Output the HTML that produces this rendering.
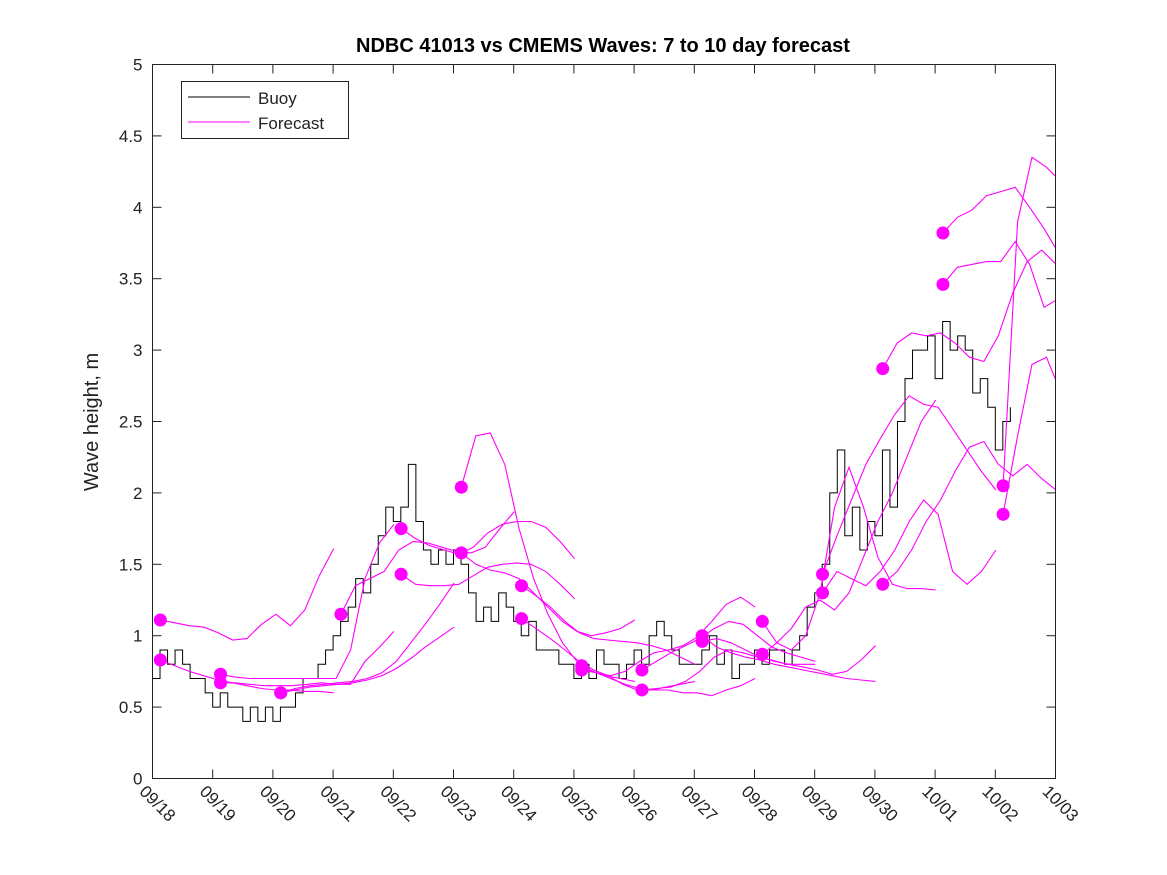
<!DOCTYPE html>
<html><head><meta charset="utf-8"><style>
body{margin:0;background:#fff;}
svg{display:block;font-family:"Liberation Sans",sans-serif;}
</style></head><body>
<svg id="chart" width="1167" height="875">
<rect x="0" y="0" width="1167" height="875" fill="#fff"/>
<text x="603" y="52" text-anchor="middle" font-size="20" font-weight="bold" fill="#000">NDBC 41013 vs CMEMS Waves: 7 to 10 day forecast</text>
<text transform="translate(98,422) rotate(-90)" text-anchor="middle" font-size="20" fill="#222">Wave height, m</text>
<g id="grid"></g>
<g id="plot"></g>
<rect x="152.5" y="64.5" width="903" height="714" fill="none" stroke="#222" stroke-width="1"/>
<g id="axes"></g>
<g>
<rect x="181.5" y="81.5" width="167" height="57" fill="#fff" stroke="#222"/>
<line x1="188" y1="97" x2="250" y2="97" stroke="#000"/>
<text x="258" y="104" font-size="17" fill="#222">Buoy</text>
<line x1="188" y1="122" x2="250" y2="122" stroke="#f0f"/>
<text x="258" y="129" font-size="17" fill="#222">Forecast</text>
</g>
</svg>
<script>
const xTickLabels=["09/18","09/19","09/20","09/21","09/22","09/23","09/24","09/25","09/26","09/27","09/28","09/29","09/30","10/01","10/02","10/03"];
const yTickLabels=["0","0.5","1","1.5","2","2.5","3","3.5","4","4.5","5"];
const buoyStep=0.125;
const buoyValues=[0.7,0.9,0.8,0.9,0.8,0.7,0.7,0.6,0.5,0.6,0.5,0.5,0.4,0.5,0.4,0.5,0.4,0.5,0.5,0.6,0.7,0.7,0.8,0.9,1.0,1.1,1.2,1.4,1.3,1.5,1.7,1.9,1.8,1.9,2.2,1.8,1.6,1.5,1.6,1.5,1.6,1.5,1.3,1.1,1.2,1.1,1.3,1.2,1.1,1.0,1.1,0.9,0.9,0.9,0.8,0.8,0.7,0.8,0.7,0.9,0.8,0.8,0.7,0.8,0.9,0.8,1.0,1.1,1.0,0.9,0.8,0.8,0.8,0.9,1.0,0.8,0.9,0.7,0.8,0.8,0.9,0.8,0.9,0.9,0.8,0.9,1.0,1.2,1.3,1.5,2.0,2.3,1.7,1.9,1.6,1.8,1.7,2.3,1.9,2.5,2.8,3.0,3.0,3.1,2.8,3.2,3.0,3.1,3.0,2.7,2.8,2.6,2.3,2.5,2.6];
const forecastStep=0.24;
const forecastStarts=[0.13,0.13,1.13,1.13,2.13,2.13,3.13,4.13,4.13,5.13,5.13,6.13,6.13,7.13,7.13,8.13,8.13,9.13,9.13,10.13,10.13,11.13,11.13,12.13,12.13,13.13,13.13,14.13,14.13];
const forecastValues=[
[1.11,1.09,1.07,1.06,1.02,0.97,0.98,1.08,1.15,1.07,1.18,1.42,1.61],
[0.83,0.79,0.75,0.72,0.69,0.67,0.65,0.63,0.62,0.62,0.61,0.61,0.60],
[0.73,0.71,0.70,0.70,0.70,0.70,0.70,0.70,0.70,0.90,1.40,1.65,1.78],
[0.67,0.67,0.66,0.65,0.65,0.65,0.66,0.67,0.66,0.66,0.82,0.92,1.03],
[0.60,0.63,0.65,0.66,0.67,0.68,0.70,0.74,0.82,0.95,1.08,1.22,1.37],
[0.60,0.62,0.64,0.65,0.66,0.67,0.69,0.72,0.77,0.84,0.92,0.99,1.06],
[1.15,1.35,1.40,1.45,1.60,1.66,1.65,1.62,1.59,1.58,1.62,1.75,1.87],
[1.75,1.68,1.63,1.60,1.57,1.62,1.72,1.78,1.80,1.80,1.76,1.66,1.54],
[1.43,1.36,1.35,1.35,1.36,1.42,1.48,1.50,1.51,1.50,1.45,1.36,1.26],
[2.04,2.40,2.42,2.20,1.75,1.40,1.15,0.95,0.82,0.75,0.72,0.70,0.68],
[1.58,1.50,1.46,1.44,1.40,1.30,1.20,1.10,1.03,1.00,1.02,1.05,1.11],
[1.35,1.28,1.20,1.10,1.02,0.98,0.97,0.96,0.95,0.93,0.90,0.85,0.80],
[1.12,1.05,0.98,0.90,0.82,0.76,0.72,0.66,0.62,0.62,0.64,0.66,0.68],
[0.79,0.74,0.70,0.66,0.63,0.62,0.62,0.60,0.60,0.58,0.62,0.65,0.70],
[0.76,0.74,0.72,0.75,0.82,0.88,0.90,0.93,0.99,1.10,1.22,1.27,1.20],
[0.76,0.82,0.88,0.93,0.98,1.05,1.10,1.08,1.00,0.92,0.88,0.85,0.82],
[0.62,0.63,0.64,0.68,0.75,0.85,0.90,0.88,0.85,0.83,0.80,0.80,0.80],
[1.00,0.92,0.88,0.85,0.83,0.80,0.78,0.76,0.74,0.72,0.70,0.69,0.68],
[0.96,0.98,0.95,0.90,0.85,0.82,0.80,0.78,0.76,0.73,0.75,0.83,0.93],
[1.10,0.95,0.90,1.00,1.30,1.90,2.18,1.90,1.55,1.36,1.33,1.33,1.32],
[0.87,0.95,1.05,1.20,1.25,1.18,1.30,1.55,1.80,2.00,2.25,2.50,2.65],
[1.43,1.70,1.95,2.20,2.38,2.55,2.68,2.62,2.60,2.45,2.30,2.15,2.02],
[1.30,1.45,1.40,1.35,1.45,1.60,1.80,1.95,1.85,1.45,1.36,1.45,1.60],
[2.87,3.05,3.12,3.10,3.12,3.05,2.95,2.92,3.10,3.40,3.62,3.70,3.60],
[1.36,1.45,1.60,1.80,1.95,2.15,2.32,2.36,2.20,2.12,2.20,2.10,2.02],
[3.82,3.93,3.98,4.08,4.11,4.14,4.00,3.85,3.68],
[3.46,3.58,3.60,3.62,3.62,3.76,3.60,3.30,3.36],
[2.05,3.90,4.35,4.28,4.18],
[1.85,2.40,2.90,2.95,2.70]
];
const NS="http://www.w3.org/2000/svg";
const X0=152.5,X1=1055.5,Y0=778.5,Y1=64.5,DAYS=15,VMAX=5;
function xs(t){return X0+(X1-X0)*t/DAYS;}
function ys(v){return Y0-(Y0-Y1)*v/VMAX;}
const plot=document.getElementById('plot'),axes=document.getElementById('axes');
function mk(tag,attrs,parent){const e=document.createElementNS(NS,tag);for(const k in attrs)e.setAttribute(k,attrs[k]);parent.appendChild(e);return e;}
// clip
const defs=mk('defs',{},plot);
const cp=mk('clipPath',{id:'clip'},defs);
mk('rect',{x:X0,y:Y1,width:X1-X0,height:Y0-Y1},cp);
const g=mk('g',{'clip-path':'url(#clip)'},plot);
// buoy
let d='';
buoyValues.forEach((v,i)=>{const x=xs(i*buoyStep),y=ys(v);if(i===0)d+='M'+x+' '+y;else{d+=' L'+x+' '+ys(buoyValues[i-1])+' L'+x+' '+y;}});
const bl=mk('path',{d:d,fill:'none',stroke:'#000','stroke-width':1},g);


// forecasts
forecastValues.forEach((vals,k)=>{
  const t0=forecastStarts[k];
  const pd=vals.map((v,i)=>(i?'L':'M')+xs(t0+i*forecastStep).toFixed(1)+' '+ys(v).toFixed(1)).join(' ');
  const p=mk('path',{d:pd,fill:'none',stroke:'#ff00ff','stroke-width':1.1},g);
  
  
});
forecastValues.forEach((vals,k)=>{
  const c=mk('circle',{cx:xs(forecastStarts[k]),cy:ys(vals[0]),r:6.5,fill:'#ff00ff'},g);
  
  
});
// y ticks
yTickLabels.forEach((lab,i)=>{
  const v=parseFloat(lab),y=ys(v);
  const l1=mk('line',{x1:X0,x2:X0+9,y1:y,y2:y,stroke:'#222'},axes);
  
  
  const l2=mk('line',{x1:X1-9,x2:X1,y1:y,y2:y,stroke:'#222'},axes);
  
  
  const t=mk('text',{x:X0-10,y:y+6,'text-anchor':'end','font-size':17,fill:'#222'},axes);
  t.textContent=lab;
  
  
});
// x ticks
xTickLabels.forEach((lab,i)=>{
  const x=xs(i);
  const l1=mk('line',{x1:x,x2:x,y1:Y0,y2:Y0-9,stroke:'#222'},axes);
  
  
  const l2=mk('line',{x1:x,x2:x,y1:Y1,y2:Y1+9,stroke:'#222'},axes);
  
  
  const t=mk('text',{transform:'translate('+(x-14)+','+(Y0+14)+') rotate(45)','font-size':17,fill:'#222'},axes);
  t.textContent=lab;
  
  
});
</script>
</body></html>
